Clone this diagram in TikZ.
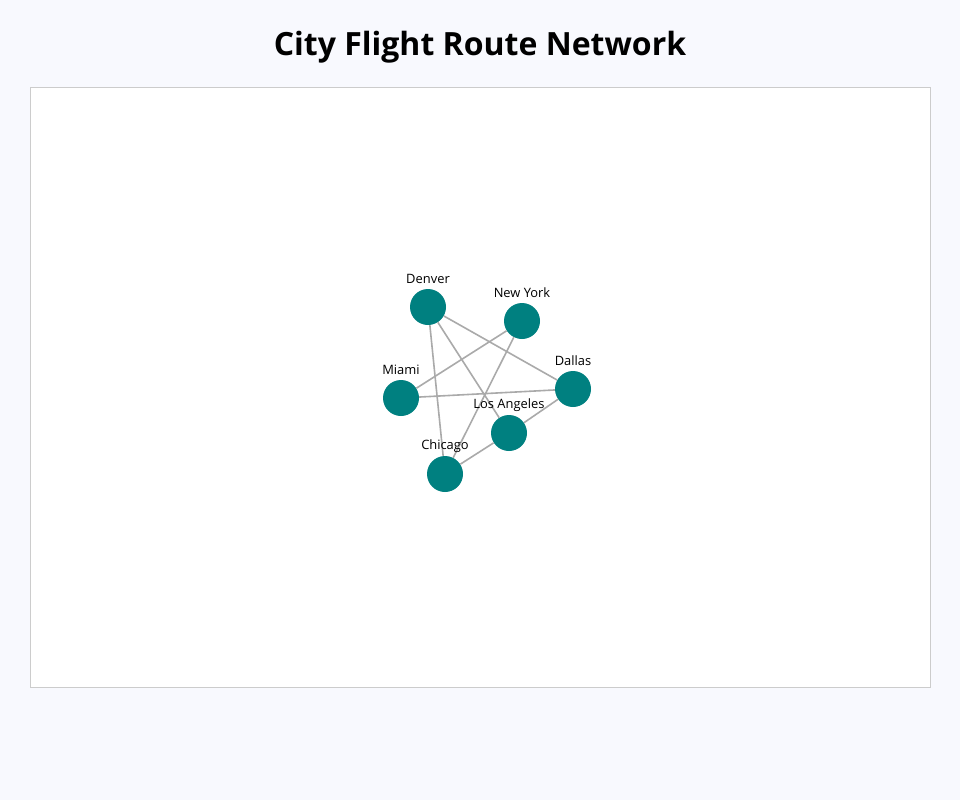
\documentclass[tikz,border=0pt]{standalone}
\usepackage{fontspec}
\setmainfont{Open Sans}
\usepackage{tikz}
\definecolor{pagebg}{HTML}{F8F9FE}
\definecolor{framegray}{HTML}{CCCCCC}
\definecolor{cityteal}{HTML}{008080}
\definecolor{routegray}{HTML}{AAAAAA}

\begin{document}
\begin{tikzpicture}[x=1pt, y=-1pt,
    city/.style={circle, fill=cityteal, minimum size=36pt, inner sep=0pt},
    route/.style={draw=routegray, line width=1.6pt},
    citylabel/.style={font=\fontsize{12.9}{15}\selectfont, text=black}]
        \fill[pagebg] (0,0) rectangle (960,800);
        \useasboundingbox (0,0) rectangle (960,800);
        \node[font=\bfseries\fontsize{32}{38}\selectfont] (title) at (480,47) {City Flight Route Network};
        \filldraw[fill=white, draw=framegray, line width=0.8pt] (30,87) rectangle (930,687);

        \node[city] (denver) at (428,307) {};
        \node[city] (newyork) at (522,321) {};
        \node[city] (miami) at (401,398) {};
        \node[city] (dallas) at (573,389) {};
        \node[city] (losangeles) at (509,433) {};
        \node[city] (chicago) at (445,474) {};

        \draw[route] (denver) -- (chicago);
        \draw[route] (denver) -- (losangeles);
        \draw[route] (denver) -- (dallas);
        \draw[route] (newyork) -- (miami);
        \draw[route] (newyork) -- (chicago);
        \draw[route] (miami) -- (dallas);
        \draw[route] (dallas) -- (losangeles);
        \draw[route] (losangeles) -- (chicago);

        \node[citylabel] (denverlabel) at (428,279) {Denver};
        \node[citylabel] (newyorklabel) at (522,293) {New York};
        \node[citylabel] (miamilabel) at (401,370) {Miami};
        \node[citylabel] (dallaslabel) at (573,361) {Dallas};
        \node[citylabel] (losangeleslabel) at (509,405) {Los Angeles};
        \node[citylabel] (chicagolabel) at (445,446) {Chicago};
      \end{tikzpicture}
\end{document}
